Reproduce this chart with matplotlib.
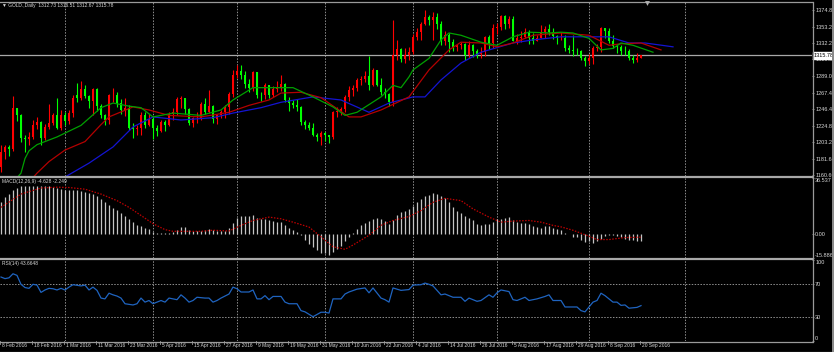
import numpy as np
import pandas as pd
import matplotlib
matplotlib.use("Agg")
import matplotlib.pyplot as plt
from matplotlib.lines import Line2D
from matplotlib.patches import Rectangle
from matplotlib.transforms import blended_transform_factory as btf

plt.rcParams["font.family"] = ["Liberation Sans Narrow", "Liberation Sans", "DejaVu Sans"]

# ---------------- data ----------------
dates = [d for d in pd.bdate_range("2016-02-08", "2016-09-20") if d != pd.Timestamp("2016-03-25")]

opens = [1171,1190,1197,1194,1247,1239,1208,1207,1210,1226,1230,1209,1223,1228,1238,1221,1238,1231,1241,1264,
         1260,1272,1263,1257,1272,1250,1238,1232,1264,1265,1254,1245,1248,1221,1220,1221,1238,1226,1233,1221,
         1218,1230,1226,1240,1243,1259,1260,1246,1228,1234,1235,1253,1243,1250,1233,1238,1243,1249,1266,1291,
         1295,1291,1279,1274,1294,1265,1264,1277,1264,1272,1274,1279,1258,1254,1252,1249,1229,1225,1222,1212,
         1210,1215,1212,1210,1242,1244,1246,1262,1271,1274,1284,1285,1289,1278,1297,1278,1269,1266,1256,1316,
         1324,1311,1316,1320,1340,1346,1357,1366,1362,1366,1356,1334,1343,1333,1327,1329,1331,1317,1330,1322,
         1318,1320,1340,1332,1351,1353,1367,1357,1363,1335,1339,1340,1346,1339,1335,1339,1346,1350,1346,1341,
         1338,1339,1326,1323,1322,1321,1312,1308,1313,1326,1327,1351,1347,1335,1328,1327,1322,1321,1313,1310,
         1312.73]
highs = [1199,1200,1200,1263,1248,1240,1213,1216,1232,1236,1231,1227,1253,1241,1261,1245,1242,1245,1264,1280,
         1283,1278,1264,1273,1274,1253,1240,1266,1273,1268,1259,1260,1251,1228,1226,1243,1242,1240,1237,1225,
         1232,1232,1243,1247,1262,1263,1261,1247,1236,1243,1255,1261,1271,1252,1240,1245,1251,1269,1297,1303,
         1304,1295,1285,1296,1294,1268,1280,1278,1276,1283,1290,1280,1262,1258,1259,1250,1232,1230,1228,1215,
         1218,1217,1213,1244,1249,1249,1264,1276,1277,1287,1289,1296,1315,1299,1297,1287,1273,1267,1362,1336,
         1326,1325,1327,1344,1351,1359,1375,1368,1372,1371,1360,1347,1345,1337,1331,1333,1332,1335,1331,1324,
         1327,1341,1342,1357,1358,1368,1368,1367,1367,1344,1348,1352,1349,1345,1342,1355,1354,1357,1351,1343,
         1346,1342,1330,1342,1326,1323,1315,1318,1328,1331,1353,1352,1352,1343,1331,1330,1328,1324,1316,1319,
         1316.51]
lows = [1165,1181,1185,1192,1231,1204,1191,1199,1207,1220,1200,1206,1220,1226,1220,1219,1226,1227,1236,1256,
        1258,1260,1247,1239,1244,1234,1225,1227,1256,1249,1240,1237,1219,1209,1213,1213,1222,1224,1207,1211,
        1216,1218,1224,1232,1239,1248,1240,1225,1223,1228,1232,1240,1241,1228,1227,1235,1235,1240,1262,1286,
        1285,1274,1269,1270,1261,1257,1259,1261,1262,1268,1270,1256,1244,1247,1244,1226,1220,1219,1211,1205,
        1199,1205,1202,1207,1236,1238,1243,1257,1263,1270,1278,1281,1271,1276,1276,1264,1260,1250,1250,1310,
        1307,1306,1310,1318,1336,1336,1355,1355,1336,1350,1330,1329,1320,1321,1322,1324,1310,1313,1314,1312,
        1313,1315,1324,1326,1344,1349,1350,1352,1335,1331,1333,1338,1331,1331,1334,1338,1339,1343,1337,1331,
        1336,1322,1319,1315,1316,1310,1302,1305,1305,1322,1320,1338,1332,1325,1319,1316,1316,1310,1306,1307,
        1312.67]
closes = [1190,1197,1194,1247,1239,1208,1207,1210,1226,1230,1209,1223,1228,1238,1221,1238,1231,1241,1261,1260,
          1272,1263,1257,1272,1250,1238,1232,1264,1265,1254,1245,1248,1221,1220,1221,1238,1226,1233,1221,1218,
          1230,1226,1240,1243,1259,1260,1246,1228,1234,1235,1253,1243,1250,1233,1238,1243,1249,1266,1291,1295,
          1291,1279,1274,1294,1265,1264,1277,1264,1272,1274,1279,1258,1254,1252,1249,1229,1225,1222,1212,1210,
          1215,1212,1210,1242,1244,1246,1262,1271,1274,1284,1285,1289,1278,1297,1278,1269,1266,1256,1316,1324,
          1311,1316,1320,1340,1346,1357,1366,1362,1366,1356,1334,1343,1333,1327,1329,1331,1317,1330,1322,1318,
          1320,1340,1332,1351,1353,1367,1357,1363,1335,1339,1340,1346,1339,1335,1339,1346,1350,1346,1341,1338,
          1339,1326,1323,1322,1321,1312,1308,1313,1326,1327,1351,1347,1335,1328,1327,1322,1321,1313,1310,1313,
          1315.78]

# Alligator lines (bar index, price)
jaw_idx = [12,16,22,28,33,38,45,53,58,65,70,78,85,92,97,103,106,110,115,120,124,128,133,140,147,152,157,161,168]
jaw_val = [1140,1158,1176,1197,1223,1236,1232,1235,1241,1248,1255,1262,1258,1242,1254,1262,1262,1284,1306,1320,
           1326,1332,1336,1340,1340,1340,1332,1332,1327]
teeth_idx = [5,9,12,16,21,25,27,33,37,42,50,57,62,67,70,75,80,87,90,95,102,107,112,115,120,124,128,133,140,147,
             152,155,160,165]
teeth_val = [1140,1163,1178,1193,1204,1226,1236,1249,1245,1238,1236,1242,1251,1258,1267,1268,1261,1236,1236,1245,
             1262,1297,1323,1333,1332,1327,1332,1342,1345,1342,1329,1331,1332,1323]
lips_idx = [2,5,6,7,9,14,20,25,28,32,35,38,43,50,55,58,63,67,70,73,78,83,86,89,95,98,100,102,103,107,
            110,112,115,120,124,128,132,137,140,143,147,150,153,155,158,163]
lips_val = [1145,1163,1182,1192,1200,1210,1225,1248,1254,1250,1248,1236,1241,1238,1245,1258,1274,1274,1274,1274,
            1262,1249,1238,1242,1262,1277,1274,1288,1297,1312,1336,1345,1342,1333,1329,1340,1346,1345,1346,1345,
            1338,1323,1325,1332,1329,1320]

macd = [21,24,26,29,30,31,31.5,31.5,31.5,31.5,
        31.5,31.5,31,30.5,30,29.5,29,29,28.5,28.5,
        28,27.5,27,26,25,23,21,19,17,15.5,
        13.5,11.5,9.5,7.5,5.5,5,4,3,1,0.3,
        0.3,0.5,0.5,1,2.3,4.2,4.2,2.5,1.8,1.8,
        1.8,2.2,2.9,2.5,1.8,1.5,1.8,3.5,6.8,10.5,
        11.5,11.5,11.8,12.6,10.5,9.4,9.4,8.8,8.5,7.6,
        7.6,5.5,4.0,2.7,1.2,-0.5,-3.8,-6.4,-8.5,-10.7,
        -12.4,-12.8,-13.9,-11.8,-10.2,-7.9,-4.9,-2.0,0.3,2.9,
        5.5,7.0,8.3,9.8,10.5,9.4,8.1,6.6,9.2,12.6,
        14.1,15.2,16.3,18.4,20.6,22.8,24.5,25.4,26.4,26,
        24.9,23.4,20.6,17.3,15.2,13.7,11.5,10.5,8.7,6.6,
        5.5,6.1,6.1,7.6,9.4,9.8,10.5,10.9,8.7,7.6,
        7.0,7.0,6.1,4.9,4.4,4.0,4.9,4.9,4.0,3.4,
        2.3,0.8,0.1,-2.0,-2.4,-4.2,-5.3,-4.9,-6.0,-4.6,
        -3.2,-1.7,-0.5,-1.1,-1.7,-2.4,-3.2,-3.8,-4.2,-4.8,
        -4.628]
sig_idx = [0,5,10,14,17,21,25,29,32,35,38,41,43,50,53,57,60,63,67,70,73,77,80,83,86,88,92,95,98,102,
           105,108,111,115,118,122,125,128,132,135,138,140,143,147,149,152,156,160]
sig_val = [17.3,26,30,30.5,30.3,29.2,26,21.7,17.3,12,6.6,2.7,1.6,1.6,2.3,1.8,5.5,8.7,10.9,9.8,
           7.6,4.4,-2,-8.5,-10.2,-7.4,-1,5.5,8.7,11.3,15.2,20.6,23.2,21.7,16.3,10.9,7.6,8.3,8.7,7.6,
           5.5,4.5,2.3,-1.6,-3.8,-3.8,-2.5,-2.249]

rsi_idx = [0,1,2,3,4,5,6,7,8,9,10,11,12,13,14,15,16,17,18,20,21,22,23,24,25,26,27,28,29,30,
           31,33,34,35,36,37,38,40,41,42,44,45,46,47,48,49,51,52,53,54,55,57,58,59,60,62,63,64,65,66,
           67,68,70,71,72,74,75,76,77,78,80,81,82,83,85,86,87,89,91,92,93,95,96,97,98,100,102,103,105,106,
           107,108,110,111,113,115,116,117,119,120,122,123,124,125,127,128,129,131,132,134,
           136,137,138,140,141,142,144,145,146,148,149,150,151,153,154,155,156,157,159,160]
rsi_val = [79,77,78,83,81,70,66,65,70,69,60,63,65,64.5,63,65,63,66.5,69.5,68,69,63,66.5,62.5,53,52,59,57,55.5,53,
           46,44.5,46,53,48,50,46,50,48,53,51,57,53,48,50,54,53,53,48,50,53,58,66.5,64.5,60.5,60.5,63,52,52,56,
           51,55,55,48,46,46,37.5,36,33,30,35.5,35.5,34.5,52,52,58,60.5,64,65.5,59.5,65.5,53,51,48,65.5,62.5,63.5,69,69.5,71.5,
           70,68,57,58,54,54,49,53,49,50,57,54,59.5,63,61,51,50,54,50,52,
           55,57,50,50,42,42,42,37.5,36,48,50,59,56,48,48,44,44.5,40.5,41.5,43.6648]

price_ticks = [1374.80, 1353.20, 1332.20, 1310.60, 1289.00, 1267.40, 1246.40, 1224.80, 1203.20, 1181.60, 1160.60]
macd_ticks = [36.537, 0.0, -15.886]
macd_tick_labels = ["36.537", "0.00", "-15.886"]
rsi_ticks = [100, 70, 30, 0]
month_grid_idx = [16, 38, 59, 81, 103, 124, 147, 171]
last_price = 1315.78

# ---------------- layout ----------------
W, H = 834, 352
BG = "black"
GRID = "#8f8f8f"
TXT = "#d8d8d8"
BULL = "#ff0000"
BEAR = "#00ff00"
FS = 4.0
FS_SMALL = 3.5

fig = plt.figure(figsize=(W / 100, H / 100), dpi=100, facecolor=BG)

def rect(x0, y0, x1, y1):
    return [x0 / W, 1 - y1 / H, (x1 - x0) / W, (y1 - y0) / H]

ax_p = fig.add_axes(rect(0, 2, 812, 176))
ax_m = fig.add_axes(rect(0, 178, 812, 258))
ax_r = fig.add_axes(rect(0, 260, 812, 341))

XMIN, XMAX = -0.25, 812 / 4 - 0.25
for ax in (ax_p, ax_m, ax_r):
    ax.set_facecolor(BG)
    ax.set_xlim(XMIN, XMAX)
    for s in ax.spines.values():
        s.set_visible(False)
    ax.set_xticks([])
    ax.yaxis.tick_right()
    ax.tick_params(axis="y", direction="out", length=1.5, width=0.6, colors="#9a9a9a",
                   labelcolor=TXT, labelsize=FS, pad=0.8)
    for gx in month_grid_idx:
        ax.axvline(gx, color=GRID, lw=0.7, ls=(0, (1.5, 1.5)), zorder=0.5)

# ---- price panel ----
ax_p.set_ylim(1159.3, 1385.2)
ax_p.set_yticks(price_ticks)
ax_p.set_yticklabels([f"{v:.2f}" for v in price_ticks])
ax_p.axhline(last_price, color="#a8a8a8", lw=0.9, zorder=1)

x = np.arange(len(closes))
o = np.array(opens, float); h = np.array(highs, float)
l = np.array(lows, float); c = np.array(closes, float)
up = c >= o
ax_p.vlines(x[up], l[up], h[up], color=BULL, lw=0.8, zorder=2)
ax_p.vlines(x[~up], l[~up], h[~up], color=BEAR, lw=0.8, zorder=2)
body = np.maximum(np.abs(c - o), 0.9)
ax_p.bar(x, body, bottom=np.minimum(o, c), width=0.7,
         color=np.where(up, BULL, BEAR), linewidth=0, zorder=3)

ax_p.plot(jaw_idx, jaw_val, color="#1414d2", lw=0.9, zorder=4)
ax_p.plot(teeth_idx, teeth_val, color="#b40000", lw=0.9, zorder=4)
ax_p.plot(lips_idx, lips_val, color="#00a000", lw=0.9, zorder=4)

ax_p.text(1.0 + 1.5 / 812, last_price, f"{last_price:.2f}", transform=btf(ax_p.transAxes, ax_p.transData),
          ha="left", va="center", fontsize=FS, color="black",
          bbox=dict(boxstyle="square,pad=0.15", fc="white", ec="white"), zorder=10, clip_on=False)

fig.text(2 / W, 1 - 5 / H, "▼ GOLD.,Daily  1312.73 1316.51 1312.67 1315.78",
         fontsize=FS_SMALL, color=TXT, ha="left", va="center")

# ---- MACD panel ----
ax_m.set_ylim(-15.886, 36.537)
ax_m.set_yticks(macd_ticks)
ax_m.set_yticklabels(macd_tick_labels)
labs = ax_m.get_yticklabels()
labs[0].set_va("top"); labs[2].set_va("bottom")
ax_m.vlines(np.arange(len(macd)), 0, macd, color="#c4c4c4", lw=0.9, zorder=2)
ax_m.plot(sig_idx, sig_val, color="#c00000", lw=0.9, ls=(0, (1.2, 1.2)), zorder=3)
ax_m.text(2 / 812, 1 - 4 / 80, "MACD(12,26,9) -4.628 -2.249", transform=ax_m.transAxes,
          fontsize=FS_SMALL, color=TXT, ha="left", va="center")

# ---- RSI panel ----
ax_r.set_ylim(0, 100)
ax_r.set_yticks(rsi_ticks)
ax_r.set_yticklabels([str(v) for v in rsi_ticks])
labs = ax_r.get_yticklabels()
labs[0].set_va("top"); labs[3].set_va("bottom")
for lv in (70, 30):
    ax_r.axhline(lv, color=GRID, lw=0.7, ls=(0, (1.5, 1.5)), zorder=0.5)
ax_r.plot(rsi_idx, rsi_val, color="#1f64c0", lw=0.9, zorder=3)
ax_r.text(2 / 812, 1 - 4 / 81, "RSI(14) 43.6648", transform=ax_r.transAxes,
          fontsize=FS_SMALL, color=TXT, ha="left", va="center")

# ---- date labels ----
tr = btf(ax_r.transData, fig.transFigure)
for i in range(0, len(dates), 8):
    d = dates[i]
    ax_r.text(i + 0.3, 1 - 345.5 / H, f"{d.day} {d.strftime('%b %Y')}", transform=tr,
              fontsize=FS_SMALL, color=TXT, ha="left", va="center", clip_on=False)
    fig.add_artist(Line2D([(4 * i) / W] * 2, [1 - 341 / H, 1 - 344 / H], color="#9a9a9a", lw=0.6))

# ---- frame / separators ----
def hline(y, x0, x1, lw, col):
    fig.add_artist(Line2D([x0 / W, x1 / W], [1 - y / H] * 2, color=col, lw=lw))

hline(1.5, 0, 812, 0.9, "#9a9a9a")
hline(177, 0, 812, 1.6, "#a8a8a8")
hline(259, 0, 812, 1.6, "#a8a8a8")
hline(341.5, 0, 812, 0.9, "#9a9a9a")
hline(351.5, 0, 834, 0.9, "#7a7a7a")
fig.add_artist(Line2D([812.5 / W] * 2, [1 - 1.5 / H, 1 - 341.5 / H], color="#9a9a9a", lw=0.9))
fig.add_artist(Rectangle((831.5 / W, 0), 2.5 / W, 1, transform=fig.transFigure,
                         facecolor="#8a8a8a", edgecolor="none"))
fig.add_artist(Line2D([647 / W], [1 - 2.5 / H], marker="v", markersize=3.5, color="#b0b0b0",
                      markeredgewidth=0, linestyle="none"))

fig.savefig("out.png", dpi=100, facecolor=BG)
